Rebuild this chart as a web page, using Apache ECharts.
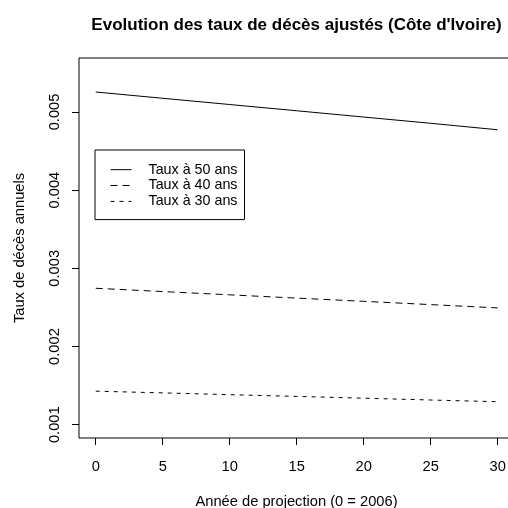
<!DOCTYPE html>
<html><head><meta charset="utf-8">
<script src="https://cdn.jsdelivr.net/npm/echarts@6/dist/echarts.min.js"></script>
<style>html,body{margin:0;padding:0;background:#fff}#c{width:508px;height:508px}</style>
</head><body><div id="c"></div>
<script>
const years = [0, 5, 10, 15, 20, 25, 30];
const taux50 = [0.005255, 0.005175, 0.005095, 0.005015, 0.004935, 0.004855, 0.004772];
const taux40 = [0.002745, 0.002703, 0.002661, 0.002619, 0.002578, 0.002536, 0.002494];
const taux30 = [0.001429, 0.001407, 0.001384, 0.001362, 0.001339, 0.001316, 0.001294];
const seriesNames = ['Taux à 50 ans', 'Taux à 40 ans', 'Taux à 30 ans'];
const xTickValues = [0, 5, 10, 15, 20, 25, 30];
const yTickValues = [0.001, 0.002, 0.003, 0.004, 0.005];
const xRange = [-1.25, 31.22];
const yRange = [0.00083, 0.00569];

const FONT = '"Liberation Sans", Arial, sans-serif';
const chart = echarts.init(document.getElementById('c'), null, {renderer: 'canvas'});
const pairs = (ys) => years.map((x, i) => [x, ys[i]]);
const dashes = ['solid', [7, 5], [4, 5]];
const dataSets = [taux50, taux40, taux30];
const AX = 14.7;

chart.setOption({
  animation: false,
  backgroundColor: '#fff',
  title: {
    text: "Evolution des taux de décès ajustés (Côte d'Ivoire)",
    left: 296.5, top: 17, padding: 0, textAlign: 'center',
    textStyle: {fontFamily: FONT, fontSize: 17, fontWeight: 'bold', color: '#000'}
  },
  legend: {
    data: seriesNames.map((n, i) => ({
      name: n,
      icon: 'path://M0,0 M0,7 L22,7 M22,14',
      itemStyle: {color: 'none', borderColor: '#000', borderWidth: 1, borderType: dashes[i]}
    })),
    orient: 'vertical', left: 95, top: 150,
    borderColor: '#000', borderWidth: 1,
    padding: [10.5, 7, 9, 13],
    itemGap: -2.5, itemWidth: 21, itemHeight: 14,
    textStyle: {fontFamily: FONT, fontSize: 14.3, lineHeight: 14, color: '#000', padding: [0, 0, 0, 12]}
  },
  grid: {left: 79, top: 58, width: 435, height: 380, outerBoundsMode: 'none', containLabel: false,
    show: true, borderColor: '#000', borderWidth: 1, backgroundColor: 'transparent'},
  xAxis: {
    type: 'value', min: xRange[0], max: xRange[1],
    axisLine: {show: false, onZero: false},
    axisTick: {show: true, length: 7, lineStyle: {color: '#000'}, customValues: xTickValues},
    axisLabel: {fontFamily: FONT, fontSize: AX, color: '#000', margin: 21.5, customValues: xTickValues},
    splitLine: {show: false},
    name: 'Année de projection (0 = 2006)', nameLocation: 'middle', nameGap: 56.5,
    nameTextStyle: {fontFamily: FONT, fontSize: AX, color: '#000'}
  },
  yAxis: {
    type: 'value', min: yRange[0], max: yRange[1],
    axisLine: {show: false, onZero: false},
    axisTick: {show: true, length: 7, lineStyle: {color: '#000'}, customValues: yTickValues},
    axisLabel: {fontFamily: FONT, fontSize: AX, color: '#000', rotate: 90, margin: 17,
      customValues: yTickValues, formatter: v => v.toFixed(3)},
    splitLine: {show: false},
    name: 'Taux de décès annuels', nameLocation: 'middle', nameGap: 51.5,
    nameTextStyle: {fontFamily: FONT, fontSize: AX, color: '#000'}
  },
  series: seriesNames.map((n, i) => ({
    name: n, type: 'line',
    symbol: 'none', showSymbol: false,
    color: '#000',
    lineStyle: {color: '#000', width: 1, type: dashes[i]},
    data: pairs(dataSets[i])
  }))
});
</script></body></html>
